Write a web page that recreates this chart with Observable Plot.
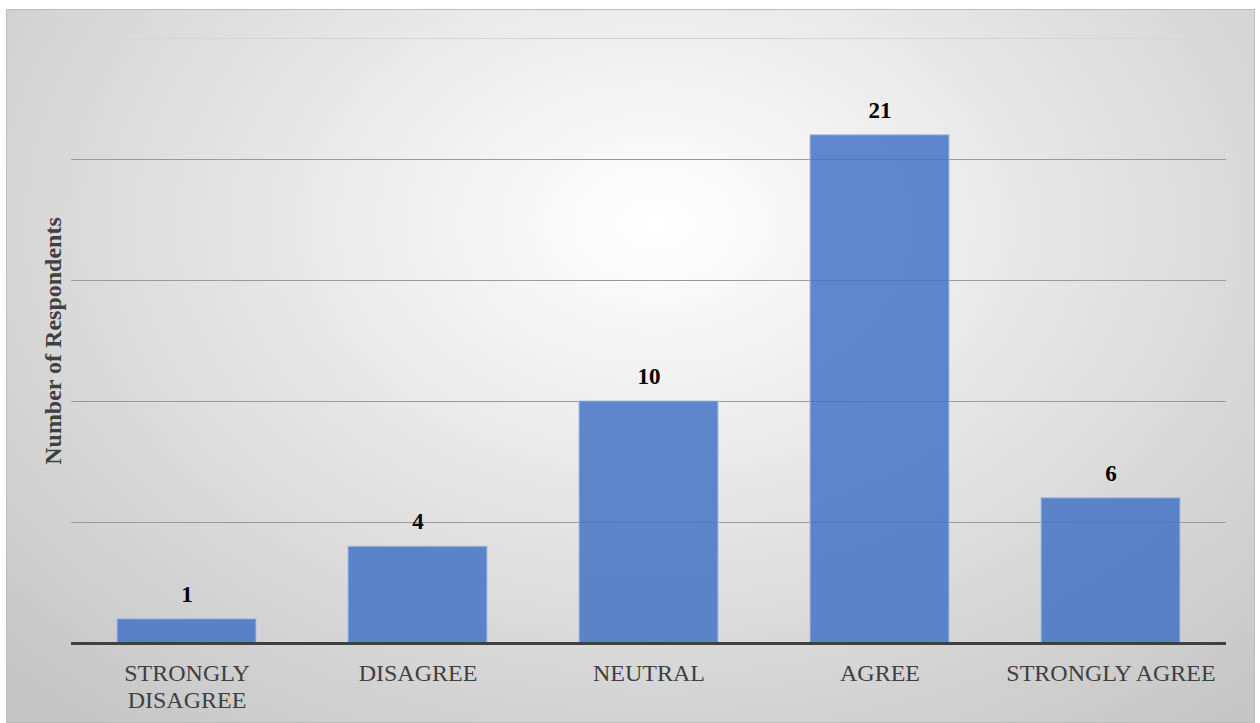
<!DOCTYPE html>
<html>
<head>
<meta charset="utf-8">
<script src="https://cdn.jsdelivr.net/npm/d3@7"></script>
<script src="https://cdn.jsdelivr.net/npm/@observablehq/plot@0.6"></script>
<style>
  html, body { margin: 0; padding: 0; background: #ffffff; }
  #frame {
    position: absolute; left: 6px; top: 9px; width: 1249px; height: 714px;
    box-sizing: border-box;
    border: 1px solid #bdbdbd;
    background: radial-gradient(ellipse 72% 90% at 52% 30%, #ffffff 0%, #f3f3f3 22%, #dedede 58%, #c6c6c6 100%);
  }
  #chart { position: absolute; left: 0; top: 0; }
</style>
</head>
<body>
<div id="frame"></div>
<div id="chart"></div>
<script>
// Survey responses per answer category
const categories = ["STRONGLY DISAGREE", "DISAGREE", "NEUTRAL", "AGREE", "STRONGLY AGREE"];
const counts = [1, 4, 10, 21, 6];
const gridTicks = [5, 10, 15, 20, 25];

const data = categories.map((c, i) => ({category: c, count: counts[i]}));

// Wrap the first category onto two lines
const tickText = c => c === "STRONGLY DISAGREE" ? "STRONGLY\nDISAGREE" : c;

const chart = Plot.plot({
  width: 1260,
  height: 723,
  marginLeft: 71,
  marginRight: 34,
  marginTop: 38,
  marginBottom: 80,
  style: {background: "transparent", fontFamily: "'Liberation Serif', 'Times New Roman', serif"},
  x: {domain: categories, paddingInner: 0.4, paddingOuter: 0.2, label: null},
  y: {domain: [0, 25], axis: null, label: null},
  marks: [
    Plot.ruleY(gridTicks.filter(t => t < 25), {stroke: "#9a9a9a", strokeWidth: 1}),
    Plot.ruleY([25], {stroke: "#d4d4d4", strokeWidth: 1}),
    Plot.barY(data, {
      x: "category", y: "count",
      fill: "#3d6fc4", fillOpacity: 0.82,
      stroke: "#a9bde3", strokeWidth: 1
    }),
    Plot.ruleY([0], {stroke: "#404040", strokeWidth: 3}),
    Plot.text(data, {
      x: "category", y: "count", text: d => String(d.count),
      dy: -25, fontSize: 23, fontWeight: "bold", fill: "#000000"
    }),
    Plot.axisX({
      tickSize: 0, tickPadding: 0, label: null,
      tickFormat: tickText, fontSize: 24, fill: "#404040",
      lineHeight: 1.13, dy: 18
    }),
    Plot.text(["Number of Respondents"], {
      frameAnchor: "left", textAnchor: "middle", dx: -18, rotate: -90,
      fontSize: 24, fontWeight: "bold", fill: "#404040"
    })
  ]
});
document.getElementById("chart").append(chart);
</script>
</body>
</html>
